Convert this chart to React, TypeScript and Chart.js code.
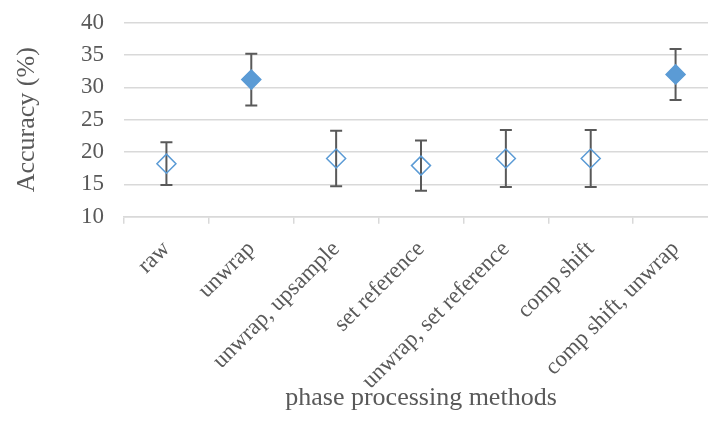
import React, { useEffect, useRef } from "react";
import { Chart, registerables } from "chart.js";

Chart.register(...registerables);

const categories = [
  "raw",
  "unwrap",
  "unwrap, upsample",
  "set reference",
  "unwrap, set reference",
  "comp shift",
  "comp shift, unwrap",
];
const accuracy = [18.2, 31.2, 19.0, 17.9, 19.0, 19.0, 32.0];
const errors = [3.3, 4.0, 4.3, 3.9, 4.4, 4.4, 3.95];
const filled = [false, true, false, false, false, false, true];

const FONT = "'Liberation Serif', 'Times New Roman', serif";
const TEXT = "#595959";
const GRID = "#d9d9d9";
const BLUE = "#5B9BD5";

const errorBarPlugin = {
  id: "errorBars",
  beforeDatasetsDraw(chart: any) {
    const { ctx, scales } = chart;
    const x = scales.x;
    const y = scales.y;
    ctx.save();
    ctx.strokeStyle = "#595959";
    ctx.lineWidth = 2;
    const cap = 6;
    accuracy.forEach((v, i) => {
      const px = x.getPixelForValue(i);
      const top = y.getPixelForValue(v + errors[i]);
      const bot = y.getPixelForValue(v - errors[i]);
      ctx.beginPath();
      ctx.moveTo(px, top);
      ctx.lineTo(px, bot);
      ctx.moveTo(px - cap, top);
      ctx.lineTo(px + cap, top);
      ctx.moveTo(px - cap, bot);
      ctx.lineTo(px + cap, bot);
      ctx.stroke();
    });
    ctx.restore();
  },
};

export default function App() {
  const ref = useRef<HTMLCanvasElement>(null);
  useEffect(() => {
    if (!ref.current) return;
    const chart = new Chart(ref.current, {
      type: "line",
      data: {
        labels: categories,
        datasets: [
          {
            data: accuracy,
            showLine: false,
            pointStyle: "rectRot",
            pointRadius: 9.5,
            pointHoverRadius: 9.5,
            pointBorderWidth: 1.5,
            borderColor: BLUE,
            pointBorderColor: BLUE,
            pointBackgroundColor: filled.map((f) => (f ? BLUE : "rgba(0,0,0,0)")),
          },
        ],
      },
      options: {
        animation: false,
        responsive: false,
        maintainAspectRatio: false,
        layout: { autoPadding: false, padding: { top: 22.7, right: 12, bottom: 0, left: 0 } },
        plugins: { legend: { display: false }, tooltip: { enabled: false } },
        scales: {
          x: {
            type: "category",
            offset: true,
            afterFit: (s: any) => {
              s.height = 436 - 216.7;
              s.paddingLeft = 0;
              s.paddingRight = 0;
            },
            grid: {
              display: true,
              offset: true,
              drawOnChartArea: false,
              drawTicks: true,
              tickLength: 7,
              color: GRID,
              lineWidth: 1.5,
            },
            border: { display: true, color: GRID, width: 1.5 },
            ticks: {
              minRotation: 45,
              maxRotation: 45,
              autoSkip: false,
              padding: 12,
              color: TEXT,
              font: { family: FONT, size: 23 },
            },
            title: {
              display: true,
              text: "phase processing methods",
              color: TEXT,
              font: { family: FONT, size: 26 },
              padding: { top: 0, bottom: 22 },
            },
          },
          y: {
            min: 10,
            max: 40,
            afterFit: (s: any) => {
              s.width = 124;
              s.paddingTop = 0;
              s.paddingBottom = 0;
            },
            ticks: {
              stepSize: 5,
              autoSkip: false,
              padding: 20,
              color: TEXT,
              font: { family: FONT, size: 23 },
            },
            grid: { color: GRID, lineWidth: 1.5, drawTicks: false },
            border: { display: false },
            title: {
              display: true,
              text: "Accuracy (%)",
              color: TEXT,
              font: { family: FONT, size: 26 },
              padding: { top: 12, bottom: 0 },
            },
          },
        },
      },
      plugins: [errorBarPlugin],
    });
    return () => chart.destroy();
  }, []);
  return (
    <div
      style={{
        position: "fixed",
        left: 0,
        top: 0,
        width: 708,
        height: 436,
        overflow: "hidden",
        background: "#fff",
      }}
    >
      <canvas ref={ref} width={730} height={436} style={{ width: 730, height: 436, display: "block" }} />
    </div>
  );
}
